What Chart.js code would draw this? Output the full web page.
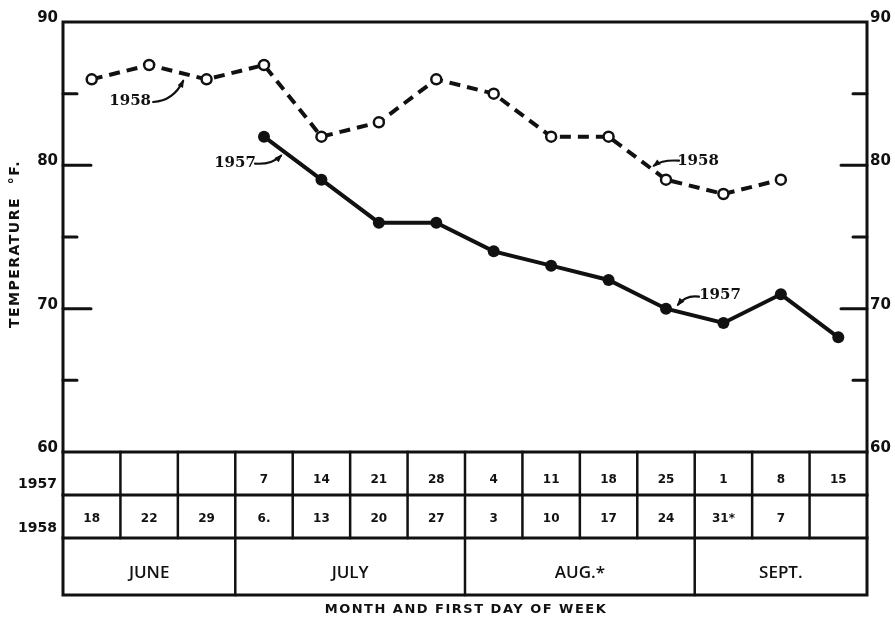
<!DOCTYPE html>
<html>
<head>
<meta charset="utf-8">
<script src="https://cdn.jsdelivr.net/npm/chart.js@4.4.0/dist/chart.umd.min.js"></script>
<style>
  html, body { margin: 0; padding: 0; background: #fff; }
  canvas { display: block; }
</style>
</head>
<body>
<canvas id="chart" width="895" height="623"></canvas>
<script>
(function () {
  // 14 weekly columns, June to mid-September
  const weeks = ['1', '2', '3', '4', '5', '6', '7', '8', '9', '10', '11', '12', '13', '14'];

  // Mean weekly temperature, °F
  const temp1958 = [86, 87, 86, 87, 82, 83, 86, 85, 82, 82, 79, 78, 79, null];
  const temp1957 = [null, null, null, 82, 79, 76, 76, 74, 73, 72, 70, 69, 71, 68];

  // First day of each week, per year
  const days1957 = ['', '', '', '7', '14', '21', '28', '4', '11', '18', '25', '1', '8', '15'];
  const days1958 = ['18', '22', '29', '6.', '13', '20', '27', '3', '10', '17', '24', '31*', '7', ''];

  const months = ['JUNE', 'JULY', 'AUG.*', 'SEPT.'];
  const monthWeeks = [3, 4, 4, 3];

  const majorTicks = [60, 70, 80, 90];
  const minorTicks = [65, 75, 85];

  const INK = '#111';
  const SANS = '"DejaVu Sans", sans-serif';
  const SERIF = '"DejaVu Serif", "Liberation Serif", serif';

  // Curved-arrow year labels, placed relative to one point of a series
  const notes = [
    { text: '1958', series: 0, idx: 1, tx: -19, ty: 36, ax: 4, ay: 37, cx: 24, cy: 36, ex: 34, ey: 16 },
    { text: '1957', series: 1, idx: 3, tx: -29, ty: 26, ax: -9, ay: 27, cx: 8, cy: 28, ex: 17, ey: 19 },
    { text: '1958', series: 0, idx: 10, tx: 32, ty: -19, ax: 13, ay: -19, cx: -4, cy: -20, ex: -12, ey: -14 },
    { text: '1957', series: 1, idx: 10, tx: 54, ty: -14, ax: 33, ay: -12, cx: 20, cy: -14, ex: 12, ey: -4 }
  ];

  const frame = {
    id: 'frame',
    afterDraw(chart) {
      const ctx = chart.ctx;
      const a = chart.chartArea;
      const x = chart.scales.x;
      const y = chart.scales.y;
      const colW = (a.right - a.left) / weeks.length;
      const row1 = a.bottom + 43, row2 = a.bottom + 86, tableBottom = a.bottom + 143;

      ctx.save();
      ctx.strokeStyle = INK;
      ctx.fillStyle = INK;
      ctx.lineCap = 'square';

      // plot frame and table outline
      ctx.lineWidth = 3;
      ctx.strokeRect(a.left, a.top, a.right - a.left, tableBottom - a.top);
      ctx.beginPath();
      [a.bottom, row1, row2].forEach(yy => { ctx.moveTo(a.left, yy); ctx.lineTo(a.right, yy); });
      ctx.stroke();

      // week dividers in the two day rows
      ctx.lineWidth = 2.5;
      ctx.beginPath();
      for (let i = 1; i < weeks.length; i++) {
        const xx = a.left + i * colW;
        ctx.moveTo(xx, a.bottom); ctx.lineTo(xx, row2);
      }
      // month dividers
      let acc = 0;
      monthWeeks.slice(0, -1).forEach(n => {
        acc += n;
        const xx = a.left + acc * colW;
        ctx.moveTo(xx, row2); ctx.lineTo(xx, tableBottom);
      });
      ctx.stroke();

      // inward ticks on both sides
      ctx.lineWidth = 3;
      ctx.lineCap = 'round';
      ctx.beginPath();
      majorTicks.slice(1, -1).forEach(v => {
        const yy = y.getPixelForValue(v);
        ctx.moveTo(a.left, yy); ctx.lineTo(a.left + 28, yy);
        ctx.moveTo(a.right, yy); ctx.lineTo(a.right - 26, yy);
      });
      minorTicks.forEach(v => {
        const yy = y.getPixelForValue(v);
        ctx.moveTo(a.left, yy); ctx.lineTo(a.left + 14, yy);
        ctx.moveTo(a.right, yy); ctx.lineTo(a.right - 14, yy);
      });
      ctx.stroke();

      // tick labels
      ctx.font = 'bold 15px ' + SANS;
      ctx.textBaseline = 'middle';
      majorTicks.forEach(v => {
        const yy = y.getPixelForValue(v) - 4;
        ctx.textAlign = 'right';
        ctx.fillText(String(v), a.left - 5, yy);
        ctx.textAlign = 'left';
        ctx.fillText(String(v), a.right + 3, yy);
      });

      // axis title
      ctx.save();
      ctx.translate(15, 244);
      ctx.rotate(-Math.PI / 2);
      ctx.textAlign = 'center';
      ctx.font = 'bold 14px ' + SANS;
      ctx.letterSpacing = '1.5px';
      ctx.fillText('TEMPERATURE  °F.', 0, 0);
      ctx.restore();

      // year labels of table rows
      ctx.font = 'bold 14px ' + SANS;
      ctx.textAlign = 'right';
      ctx.fillText('1957', a.left - 6, a.bottom + 32);
      ctx.fillText('1958', a.left - 6, row1 + 33);

      // day numbers
      ctx.font = 'bold 12px ' + SANS;
      ctx.textAlign = 'center';
      weeks.forEach((w, i) => {
        const xx = x.getPixelForValue(i);
        if (days1957[i]) ctx.fillText(days1957[i], xx, a.bottom + 28);
        if (days1958[i]) ctx.fillText(days1958[i], xx, row1 + 24);
      });

      // month names
      ctx.font = '600 17px "Open Sans", ' + SANS;
      acc = 0;
      months.forEach((m, k) => {
        const xx = a.left + (acc + monthWeeks[k] / 2) * colW;
        ctx.fillText(m, xx, row2 + 35);
        acc += monthWeeks[k];
      });

      // x title
      ctx.font = 'bold 13px ' + SANS;
      ctx.letterSpacing = '1.5px';
      ctx.fillText('MONTH AND FIRST DAY OF WEEK', 466, 610);
      ctx.letterSpacing = '0px';

      // curved-arrow labels
      notes.forEach(n => {
        const p = chart.getDatasetMeta(n.series).data[n.idx];
        ctx.font = 'bold 15px ' + SERIF;
        ctx.textAlign = 'center';
        ctx.fillText(n.text, p.x + n.tx, p.y + n.ty);
        const sx = p.x + n.ax, sy = p.y + n.ay;
        const qx = p.x + n.cx, qy = p.y + n.cy;
        const ex = p.x + n.ex, ey = p.y + n.ey;
        ctx.lineWidth = 2.2;
        ctx.lineCap = 'round';
        ctx.beginPath();
        ctx.moveTo(sx, sy);
        ctx.quadraticCurveTo(qx, qy, ex, ey);
        ctx.stroke();
        const ang = Math.atan2(ey - qy, ex - qx);
        ctx.beginPath();
        ctx.moveTo(ex + Math.cos(ang) * 2, ey + Math.sin(ang) * 2);
        ctx.lineTo(ex - Math.cos(ang - 0.45) * 7, ey - Math.sin(ang - 0.45) * 7);
        ctx.lineTo(ex - Math.cos(ang + 0.45) * 7, ey - Math.sin(ang + 0.45) * 7);
        ctx.closePath();
        ctx.fill();
      });

      ctx.restore();
    }
  };

  new Chart(document.getElementById('chart').getContext('2d'), {
    type: 'line',
    data: {
      labels: weeks,
      datasets: [
        {
          label: '1958',
          data: temp1958,
          borderColor: INK,
          borderWidth: 4,
          borderDash: [11, 7],
          pointRadius: 5,
          pointBorderWidth: 2.5,
          pointBackgroundColor: '#fff',
          pointBorderColor: INK,
          tension: 0,
          spanGaps: false
        },
        {
          label: '1957',
          data: temp1957,
          borderColor: INK,
          borderWidth: 4,
          pointRadius: 6,
          pointBorderWidth: 0,
          pointBackgroundColor: INK,
          tension: 0,
          spanGaps: false
        }
      ]
    },
    options: {
      responsive: false,
      animation: false,
      clip: false,
      layout: { padding: { left: 63, right: 28, top: 22, bottom: 171 } },
      plugins: { legend: { display: false }, tooltip: { enabled: false } },
      scales: {
        x: { type: 'category', offset: true, display: false },
        y: { type: 'linear', min: 60, max: 90, display: false }
      }
    },
    plugins: [frame]
  });
})();
</script>
</body>
</html>
